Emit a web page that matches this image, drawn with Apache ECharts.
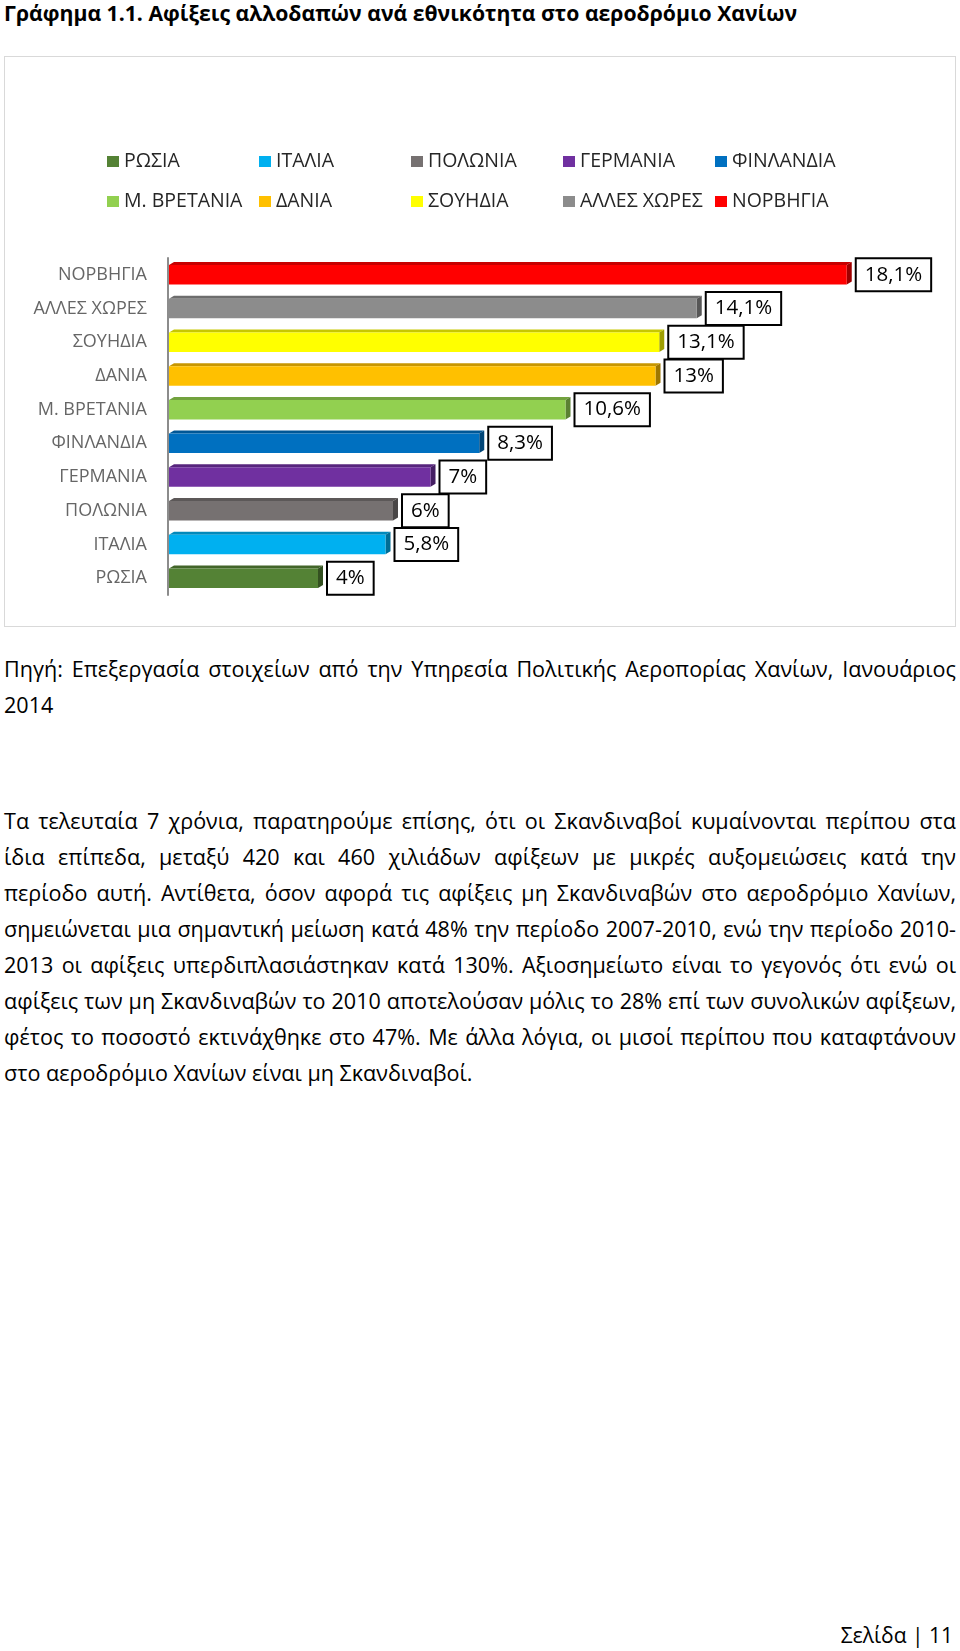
<!DOCTYPE html>
<html>
<head>
<meta charset="utf-8">
<script src="https://cdn.jsdelivr.net/npm/echarts/dist/echarts.min.js"></script>
<style>
  html, body { margin: 0; padding: 0; background: #fff; }
  body { width: 960px; height: 1651px; position: relative; overflow: hidden; font-family: "Open Sans", sans-serif; color: #000; }
  .title { position: absolute; left: 4px; top: -2px; font-size: 21.2px; font-weight: bold; line-height: 30px; white-space: nowrap; }
  .box { position: absolute; left: 4px; top: 56px; width: 952px; height: 571px; border: 1px solid #d9d9d9; box-sizing: border-box; }
  #chart { width: 950px; height: 569px; }
  .text { position: absolute; left: 4px; width: 952px; font-size: 20px; line-height: 36px; }
  .text div { text-align: justify; text-align-last: justify; }
  .text div.last { text-align-last: left; }
  .footer { position: absolute; right: 7px; top: 1617px; font-size: 21px; line-height: 36px; }
</style>
</head>
<body>
<div class="title">Γράφημα 1.1. Αφίξεις αλλοδαπών ανά εθνικότητα στο αεροδρόμιο Χανίων</div>
<div class="box"><div id="chart"></div></div>

<div class="text" id="source" style="top:651px">
  <div>Πηγή: Επεξεργασία στοιχείων από την Υπηρεσία Πολιτικής Αεροπορίας Χανίων, Ιανουάριος</div>
  <div class="last">2014</div>
</div>

<div class="text" id="para" style="top:803px">
  <div>Τα τελευταία 7 χρόνια, παρατηρούμε επίσης, ότι οι Σκανδιναβοί κυμαίνονται περίπου στα</div>
  <div>ίδια επίπεδα, μεταξύ 420 και 460 χιλιάδων αφίξεων με μικρές αυξομειώσεις κατά την</div>
  <div>περίοδο αυτή. Αντίθετα, όσον αφορά τις αφίξεις μη Σκανδιναβών στο αεροδρόμιο Χανίων,</div>
  <div>σημειώνεται μια σημαντική μείωση κατά 48% την περίοδο 2007-2010, ενώ την περίοδο 2010-</div>
  <div>2013 οι αφίξεις υπερδιπλασιάστηκαν κατά 130%. Αξιοσημείωτο είναι το γεγονός ότι ενώ οι</div>
  <div>αφίξεις των μη Σκανδιναβών το 2010 αποτελούσαν μόλις το 28% επί των συνολικών αφίξεων,</div>
  <div>φέτος το ποσοστό εκτινάχθηκε στο 47%. Με άλλα λόγια, οι μισοί περίπου που καταφτάνουν</div>
  <div class="last">στο αεροδρόμιο Χανίων είναι μη Σκανδιναβοί.</div>
</div>

<div class="footer">Σελίδα | 11</div>

<script>
// bottom to top, as in the chart
var countries = ['ΡΩΣΙΑ', 'ΙΤΑΛΙΑ', 'ΠΟΛΩΝΙΑ', 'ΓΕΡΜΑΝΙΑ', 'ΦΙΝΛΑΝΔΙΑ', 'Μ. ΒΡΕΤΑΝΙΑ', 'ΔΑΝΙΑ', 'ΣΟΥΗΔΙΑ', 'ΑΛΛΕΣ ΧΩΡΕΣ', 'ΝΟΡΒΗΓΙΑ'];
var shares = [4, 5.8, 6, 7, 8.3, 10.6, 13, 13.1, 14.1, 18.1];
var palette = ['#548235', '#00b0f0', '#767171', '#7030a0', '#0070c0', '#92d050', '#ffc000', '#ffff00', '#8c8c8c', '#ff0000'];

// one font size for source + paragraph, so the widest line just fills the page width
function fitText(ids, maxWidth) {
  var ctx = document.createElement('canvas').getContext('2d');
  ctx.font = '20px "Open Sans"';
  var widest = 0;
  ids.forEach(function (id) {
    document.getElementById(id).querySelectorAll('div').forEach(function (d) {
      widest = Math.max(widest, ctx.measureText(d.textContent).width);
    });
  });
  var size = Math.min(24, 20 * maxWidth / widest);
  ids.forEach(function (id) {
    document.getElementById(id).style.fontSize = size.toFixed(2) + 'px';
  });
}
fitText(['source', 'para'], 948);

function darken(hex, k) {
  var n = parseInt(hex.slice(1), 16);
  var r = Math.round(((n >> 16) & 255) * k);
  var g = Math.round(((n >> 8) & 255) * k);
  var b = Math.round((n & 255) * k);
  return 'rgb(' + r + ',' + g + ',' + b + ')';
}

// 3D-looking bar with a boxed value label
function renderBar(params, api) {
  var v = api.value(0);
  var idx = api.value(1);
  var start = api.coord([0, idx]);
  var end = api.coord([v, idx]);
  var band = api.size([0, 1])[1];
  var h = band * 0.58;
  var dx = 5, dy = 3;
  var x0 = start[0] + 1, x1 = end[0];
  var y0 = end[1] - h / 2, y1 = end[1] + h / 2;
  var color = palette[params.seriesIndex];
  return {
    type: 'group',
    children: [
      {
        type: 'polygon',
        shape: { points: [[x0, y0], [x0 + dx, y0 - dy], [x1 + dx, y0 - dy], [x1, y0]] },
        style: { fill: darken(color, 0.78) }
      },
      {
        type: 'polygon',
        shape: { points: [[x1, y0], [x1 + dx, y0 - dy], [x1 + dx, y1 - dy], [x1, y1]] },
        style: { fill: darken(color, 0.62) }
      },
      {
        type: 'rect',
        shape: { x: x0, y: y0, width: x1 - x0, height: h },
        style: { fill: color }
      },
      {
        type: 'text',
        x: x1 + dx + 5,
        y: end[1],
        style: {
          text: String(v).replace('.', ',') + '%',
          font: '20.5px "Open Sans"',
          fill: '#000',
          align: 'left',
          verticalAlign: 'middle',
          lineHeight: 23,
          backgroundColor: '#fff',
          borderColor: '#000',
          borderWidth: 2,
          padding: [4, 8]
        }
      }
    ]
  };
}

var chart = echarts.init(document.getElementById('chart'));
var option = {
  animation: false,
  legend: {
    data: countries,
    left: 102,
    top: 88,
    padding: 0,
    width: 770,
    itemWidth: 12,
    itemHeight: 11,
    itemGap: 7,
    icon: 'rect',
    textStyle: {
      fontFamily: 'Open Sans',
      fontSize: 19.5,
      color: '#262626',
      width: 128,
      overflow: 'truncate',
      lineHeight: 33
    }
  },
  grid: {
    left: 163,
    right: 37,
    top: 201,
    bottom: 31
  },
  xAxis: {
    type: 'value',
    min: 0,
    max: 20,
    show: false
  },
  yAxis: {
    type: 'category',
    data: countries,
    axisTick: { show: false },
    axisLine: { lineStyle: { color: '#8c8c8c', width: 2 } },
    axisLabel: {
      margin: 21,
      fontFamily: 'Open Sans',
      fontSize: 18,
      color: '#666'
    }
  },
  series: countries.map(function (name, i) {
    return {
      name: name,
      type: 'custom',
      color: palette[i],
      renderItem: renderBar,
      encode: { x: 0, y: 1 },
      data: [[shares[i], i]]
    };
  })
};
chart.setOption(option);
</script>
</body>
</html>
